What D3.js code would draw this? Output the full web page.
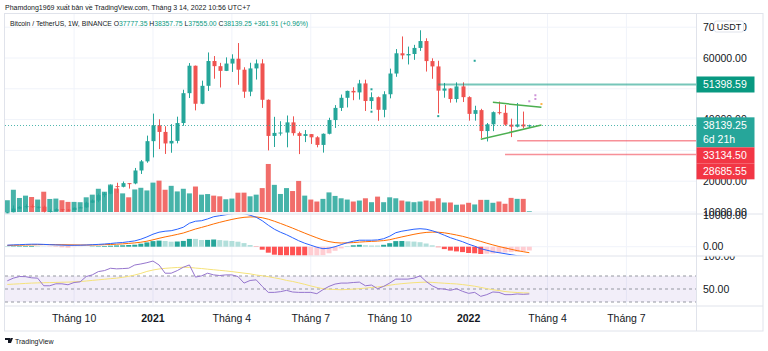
<!DOCTYPE html>
<html>
<head>
<meta charset="utf-8">
<script src="https://cdn.jsdelivr.net/npm/d3@7"></script>
<style>
    body { margin: 0; background: #fff; }
    svg { display: block; font-family: "Liberation Sans", Arial, sans-serif; }
</style>
</head>
<body>
<svg id="chart" width="768" height="351"></svg>
<script>
"use strict";

// weekly BTC/USDT candles, first week = 2020-07-20
var opens = [9160,9930,11100,11660,11900,11650,11710,10260,10330,10920,10780,10670,11380,11500,13030,13740,15480,15960,18400,18180,19370,19270,23480,26440,33000,38150,36000,32260,33090,38880,48580,57490,45140,50970,59020,57350,55820,58200,59770,56200,49070,56620,58240,46430,34700,35680,35800,39100,35600,34700,35290,34250,31780,35400,39850,43800,47080,49320,48830,51750,46030,47270,43180,48230,54960,61530,60850,61300,63270,65500,59000,57270,49400,50100,46680,50780,47290,41860,43080,36280,38470,42410,42200,38360,37700,38420,37777.35];
var highs = [10000,12120,11900,12490,12470,11800,12090,10800,11180,10990,10950,11490,11720,13350,14100,15960,16480,18950,19500,19900,19420,24300,26870,34800,41950,40100,37850,38530,40950,49700,58350,57540,52640,61800,60630,58420,60200,61200,64850,57000,58450,59500,59600,46550,40900,39480,41330,41060,36100,36600,35300,34600,35500,40600,44700,48140,49400,50500,52900,52950,48850,47500,49200,56550,62900,67000,63700,64270,69000,66400,59900,59100,51900,50200,52100,52100,47570,44500,43500,38900,42650,45850,44750,40300,45400,42600,38357.75];
var lows = [9120,9900,11000,11150,11370,11120,9880,9880,10260,10140,10370,10530,11250,11410,12960,13200,14800,15790,16200,18000,17600,19000,22350,25990,27730,30420,28850,29240,32300,37990,47000,43000,45000,49300,53270,50420,55760,55470,51300,47050,47600,53000,43800,30000,31100,34800,31000,34800,28800,32700,32100,31000,29280,35200,37300,42800,43950,46300,46500,42800,43400,39600,40750,46900,53900,59600,57900,59400,62300,55600,53250,42000,47100,45500,45560,45700,39650,39650,34000,32900,36250,41650,38000,34320,37450,37150,37555];
var closes = [9930,11100,11660,11900,11650,11710,10260,10330,10920,10780,10670,11380,11500,13030,13740,15480,15960,18400,18180,19370,19270,23480,26440,33000,38150,36000,32260,33090,38880,48580,57490,45140,50970,59020,57350,55820,58200,59770,56200,49070,56620,58240,46430,34700,35680,35800,39100,35600,34700,35290,34250,31780,35400,39850,43800,47080,49320,48830,51750,46030,47270,43180,48230,54960,61530,60850,61300,63270,65500,59000,57270,49400,50100,46680,50780,47290,41860,43080,36280,38470,42410,42200,38360,37700,38420,37780,38139.25];
// volume, thousand BTC
var volumes = [240,454,286,334,306,254,414,266,274,240,206,206,200,300,354,474,414,560,480,380,300,460,494,440,600,640,454,534,420,474,380,520,354,366,334,320,260,274,394,395,320,354,488,980,554,368,488,428,634,334,254,214,268,400,328,280,254,214,234,280,200,314,200,300,280,234,214,200,214,234,220,280,194,194,148,154,188,154,248,248,188,214,168,288,268,268,14];

// legend change of the last bar, as printed
var lastChange = 361.91;
var lastChangePct = 0.96;

// MACD 12 26 9
var macdLine = [450,540,600,690,750,750,690,600,540,480,420,420,450,510,600,690,810,960,1140,1260,1500,1740,2250,2940,3750,4350,4650,4800,5250,5850,7050,7650,7800,8340,9000,9300,9600,9900,10050,9900,9450,8850,7800,6450,5250,4350,3600,2700,1800,1050,450,-150,-600,-450,0,600,1200,1650,1950,1950,1950,2040,2400,3150,4200,4650,4950,5250,5400,5250,4800,4200,3450,2700,2100,1500,750,150,-600,-1050,-1500,-1800,-2100,-2400,-2700,-2850,-2940];
var signalLine = [390,420,450,510,540,600,630,630,600,600,570,540,510,510,510,540,600,660,750,840,990,1140,1350,1650,2070,2520,2940,3300,3690,4110,4710,5310,5790,6300,6840,7320,7770,8190,8550,8820,8940,8940,8700,8250,7650,6990,6300,5580,4830,4080,3360,2670,2010,1530,1230,1110,1140,1230,1380,1500,1590,1680,1830,2100,2520,2940,3330,3720,4050,4290,4380,4350,4170,3870,3510,3120,2640,2130,1590,1050,540,60,-360,-780,-1170,-1500,-1800];
var macdHist = [60,120,150,180,210,150,60,-30,-60,-120,-150,-120,-60,0,90,150,210,300,390,420,510,600,900,1290,1680,1830,1710,1500,1560,1740,2340,2340,2010,2040,2160,1980,1830,1710,1500,1080,510,-90,-900,-1800,-2400,-2640,-2700,-2880,-3030,-3030,-2910,-2820,-2610,-1980,-1230,-510,60,420,570,450,360,360,570,1050,1680,1710,1620,1530,1350,960,420,-150,-720,-1170,-1410,-1620,-1890,-1980,-2190,-2100,-2040,-1860,-1740,-1620,-1530,-1350,-1140];

// RSI 14 and its moving average
var rsiValues = [62.6,66.7,69.2,69.0,67.2,66.7,55.0,55.0,58.0,58.0,56.5,60.0,61.0,69.2,71.7,76.8,78.3,81.9,81.0,81.4,82.0,86.9,88.5,90.5,93.0,87.0,74.3,74.3,78.3,83.5,87.0,68.3,70.2,74.3,71.7,70.7,71.7,71.7,69.2,59.1,63.1,64.1,54.0,44.8,44.8,45.9,47.9,45.4,44.8,44.8,44.8,42.8,48.9,54.0,57.6,59.1,59.1,60.0,60.6,55.0,56.1,50.5,54.0,59.1,65.2,65.2,65.2,66.7,70.2,61.6,55.0,50.5,49.9,47.9,50.5,46.4,43.3,44.8,38.7,41.3,45.4,44.8,41.3,41.3,42.4,41.8,42.4];
var rsiMa = [57,57.5,58,58.6,59.1,59.4,59.7,59.9,60.1,60.4,60.6,61,61.5,62.3,63.2,64.1,65,65.9,66.7,68,69.5,71.5,74,77,79.2,80.8,81.8,82.5,83.1,83.5,83.2,82.2,81.5,80.5,79.6,78.7,77.8,76.8,75.6,74.4,73.3,71.5,70.4,69,67.2,65.5,63.2,61.6,59.5,57.2,54.7,52.5,50.5,49.7,49.2,48.9,49.3,49.8,50.5,51.4,52.3,53.2,54.2,55.8,57.2,58.2,59,59.7,60.2,60.6,60.2,59.5,58.9,58.3,57.8,56.8,55.6,54.3,52.5,50.6,48.9,47.6,46.1,45.2,44.6,44.1,43.8];

var tickDates = ["2020-10-05","2021-01-04","2021-04-05","2021-07-05","2021-10-04","2022-01-03","2022-04-04","2022-07-04"];
var tickLabels = ["Tháng 10","2021","Tháng 4","Tháng 7","Tháng 10","2022","Tháng 4","Tháng 7"];
var priceTicks = [70000,60000,50000,40000,30000,20000,10000];

// drawings on the chart
var levelLines = [
    {from: "2021-11-29", price: 51398.59, color: "#089981"},
    {from: "2022-02-28", price: 33134.50, color: "#f23645"},
    {from: "2022-02-14", price: 28685.55, color: "#f23645"}
];
var trendLines = [
    {from: "2022-01-31", p1: 45600, to: "2022-03-28", p2: 44000},
    {from: "2022-01-17", p1: 33600, to: "2022-03-28", p2: 38250}
];
var marks = [
    {date: "2021-09-13", price: 49840, color: "#26a69a"},
    {date: "2021-09-13", price: 42560, color: "#26a69a"},
    {date: "2021-11-29", price: 41130, color: "#26a69a"},
    {date: "2022-01-10", price: 59100, color: "#26a69a"},
    {date: "2022-03-21", price: 47900, color: "#ce93d8"},
    {date: "2022-03-21", price: 46700, color: "#ce93d8"},
    {date: "2022-03-14", price: 45950, color: "#ce93d8"},
    {date: "2022-03-28", price: 45060, color: "#ffb74d"}
];

var up = "#26a69a", down = "#ef5350";
var gridColor = "#f0f3fa", borderColor = "#e0e3eb", textColor = "#131722";
var parseDay = d3.utcParse("%Y-%m-%d");
var weeks = d3.utcMonday.range(parseDay("2020-07-20"), parseDay("2022-03-15"));
var bars = weeks.map(function(d, i) {
    return {date: d, o: opens[i], h: highs[i], l: lows[i], c: closes[i], v: volumes[i],
        macd: macdLine[i], signal: signalLine[i], hist: macdHist[i], rsi: rsiValues[i], rsiMa: rsiMa[i]};
});

var plotLeft = 5, plotRight = 696, axisRight = 763;
var main = {top: 14, bottom: 213.5};
var macdPane = {top: 214.5, bottom: 255.5};
var rsiPane = {top: 256.5, bottom: 305.5};

var x = d3.scaleUtc().domain([weeks[0], weeks[weeks.length - 1]]).range([7.3, 529.3]);
var y = d3.scaleLinear().domain([10000, 60000]).range([212, 58]);
var yVol = d3.scaleLinear().domain([0, 1000]).range([212, 163]);
var yMacd = d3.scaleLinear().domain([0, 10000]).range([246.7, 213.4]);
var yRsi = d3.scaleLinear().domain([30, 70]).range([302, 276]);
var fmt = d3.format(".2f");

var svg = d3.select("#chart");
svg.append("rect").attr("width", 768).attr("height", 351).attr("fill", "#fff");

var defs = svg.append("defs");
function clip(id, top, bottom) {
    defs.append("clipPath").attr("id", id).append("rect")
        .attr("x", plotLeft).attr("y", top).attr("width", plotRight - plotLeft).attr("height", bottom - top);
    return svg.append("g").attr("clip-path", "url(#" + id + ")");
}

// vertical grid in all panes
svg.append("g").selectAll("line")
    .data(tickDates)
    .enter().append("line")
    .attr("x1", function(d) { return x(parseDay(d)); })
    .attr("x2", function(d) { return x(parseDay(d)); })
    .attr("y1", main.top).attr("y2", rsiPane.bottom)
    .attr("stroke", gridColor);

// ---- main pane ----
var gMain = clip("clipMain", main.top, main.bottom);

gMain.selectAll(".hgrid")
    .data(priceTicks)
    .enter().append("line")
    .attr("x1", plotLeft).attr("x2", plotRight)
    .attr("y1", function(d) { return y(d); })
    .attr("y2", function(d) { return y(d); })
    .attr("stroke", gridColor);

// volume
gMain.selectAll(".vol")
    .data(bars)
    .enter().append("rect")
    .attr("x", function(d) { return x(d.date) - 2.5; })
    .attr("width", 5)
    .attr("y", function(d) { return yVol(d.v); })
    .attr("height", function(d) { return yVol(0) - yVol(d.v); })
    .attr("fill", function(d) { return d.c >= d.o ? up : down; })
    .attr("opacity", 0.85);

// candles
var candle = gMain.selectAll(".candle")
    .data(bars)
    .enter().append("g")
    .attr("fill", function(d) { return d.c >= d.o ? up : down; })
    .attr("stroke", function(d) { return d.c >= d.o ? up : down; });

candle.append("line")
    .attr("x1", function(d) { return Math.round(x(d.date)) + 0.5; })
    .attr("x2", function(d) { return Math.round(x(d.date)) + 0.5; })
    .attr("y1", function(d) { return y(d.h); })
    .attr("y2", function(d) { return y(d.l); });

candle.append("rect")
    .attr("stroke", "none")
    .attr("x", function(d) { return Math.round(x(d.date)) - 1.5; })
    .attr("width", 4)
    .attr("y", function(d) { return y(Math.max(d.o, d.c)); })
    .attr("height", function(d) { return Math.max(1, Math.abs(y(d.o) - y(d.c))); });

// last price line
var last = bars[bars.length - 1];
var lastY = Math.round(y(last.c)) + 0.5;
gMain.append("line")
    .attr("x1", plotLeft).attr("x2", plotRight)
    .attr("y1", lastY).attr("y2", lastY)
    .attr("stroke", up).attr("stroke-dasharray", "1,2").attr("opacity", 0.8);

// horizontal levels
gMain.selectAll(".level")
    .data(levelLines)
    .enter().append("line")
    .attr("x1", function(d) { return x(parseDay(d.from)); })
    .attr("x2", plotRight)
    .attr("y1", function(d) { return y(d.price); })
    .attr("y2", function(d) { return y(d.price); })
    .attr("stroke", function(d) { return d.color; })
    .attr("stroke-width", function(d, i) { return i === 0 ? 2 : 1.5; })
    .attr("opacity", 0.55);

// triangle
gMain.selectAll(".trend")
    .data(trendLines)
    .enter().append("line")
    .attr("x1", function(d) { return x(parseDay(d.from)); })
    .attr("y1", function(d) { return y(d.p1); })
    .attr("x2", function(d) { return x(parseDay(d.to)); })
    .attr("y2", function(d) { return y(d.p2); })
    .attr("stroke", "#4caf50").attr("stroke-width", 1.5);

gMain.selectAll(".mark")
    .data(marks)
    .enter().append("rect")
    .attr("x", function(d) { return x(parseDay(d.date)) - 1; })
    .attr("y", function(d) { return y(d.price) - 1; })
    .attr("width", 2).attr("height", 2)
    .attr("fill", function(d) { return d.color; });

// ---- MACD pane ----
var gMacd = clip("clipMacd", macdPane.top, macdPane.bottom);
gMacd.append("line")
    .attr("x1", plotLeft).attr("x2", plotRight)
    .attr("y1", yMacd(0)).attr("y2", yMacd(0))
    .attr("stroke", gridColor);

gMacd.selectAll(".hist")
    .data(bars)
    .enter().append("rect")
    .attr("x", function(d) { return x(d.date) - 2.5; })
    .attr("width", 5)
    .attr("y", function(d) { return yMacd(Math.max(0, d.hist)); })
    .attr("height", function(d) { return Math.abs(yMacd(d.hist) - yMacd(0)); })
    .attr("fill", function(d, i) {
        var prev = i > 0 ? bars[i - 1].hist : 0;
        if (d.hist >= 0) return prev < d.hist ? "#26a69a" : "#b2dfdb";
        return prev < d.hist ? "#ffcdd2" : "#ff5252";
    });

gMacd.append("path")
    .datum(bars)
    .attr("fill", "none").attr("stroke", "#ff6d00").attr("stroke-width", 1)
    .attr("d", d3.line().x(function(d) { return x(d.date); }).y(function(d) { return yMacd(d.signal); }));

gMacd.append("path")
    .datum(bars)
    .attr("fill", "none").attr("stroke", "#2962ff").attr("stroke-width", 1)
    .attr("d", d3.line().x(function(d) { return x(d.date); }).y(function(d) { return yMacd(d.macd); }));

// ---- RSI pane ----
var gRsi = clip("clipRsi", rsiPane.top, rsiPane.bottom);
gRsi.append("rect")
    .attr("x", plotLeft).attr("width", plotRight - plotLeft)
    .attr("y", yRsi(70)).attr("height", yRsi(30) - yRsi(70))
    .attr("fill", "#7e57c2").attr("opacity", 0.1);

gRsi.selectAll(".band")
    .data([70, 50, 30])
    .enter().append("line")
    .attr("x1", plotLeft).attr("x2", plotRight)
    .attr("y1", function(d) { return yRsi(d); })
    .attr("y2", function(d) { return yRsi(d); })
    .attr("stroke", "#9598a1").attr("stroke-dasharray", "3,3");

gRsi.append("path")
    .datum(bars)
    .attr("fill", "none").attr("stroke", "#f5e27a").attr("stroke-width", 1)
    .attr("d", d3.line().x(function(d) { return x(d.date); }).y(function(d) { return yRsi(d.rsiMa); }));

gRsi.append("path")
    .datum(bars)
    .attr("fill", "none").attr("stroke", "#9575cd").attr("stroke-width", 1)
    .attr("d", d3.line().x(function(d) { return x(d.date); }).y(function(d) { return yRsi(d.rsi); }));

// borders and separators
var frame = svg.append("g").attr("stroke", borderColor).attr("fill", "none");
frame.append("rect").attr("x", plotLeft - 0.5).attr("y", main.top - 0.5)
    .attr("width", axisRight - plotLeft + 0.5).attr("height", 331 - main.top + 0.5);
[214, 256, 306].forEach(function(v) {
    frame.append("line").attr("x1", plotLeft).attr("x2", axisRight).attr("y1", v).attr("y2", v);
});
frame.append("line").attr("x1", plotRight + 0.5).attr("x2", plotRight + 0.5).attr("y1", main.top).attr("y2", 331);

// x axis
svg.append("g").selectAll("text")
    .data(tickDates)
    .enter().append("text")
    .attr("x", function(d) { return x(parseDay(d)); })
    .attr("y", 321.5)
    .attr("text-anchor", "middle")
    .attr("font-size", 10.5)
    .attr("font-weight", function(d, i) { return /^\d+$/.test(tickLabels[i]) ? "bold" : "normal"; })
    .attr("fill", textColor)
    .text(function(d, i) { return tickLabels[i]; });

// price labels on the axis, stacked so they do not overlap
var labels = [
    {price: levelLines[0].price, lines: [fmt(levelLines[0].price)], color: "#089981"},
    {price: last.c, lines: [fmt(last.c), "6d 21h"], color: "#26a69a"},
    {price: levelLines[1].price, lines: [fmt(levelLines[1].price)], color: "#f23645"},
    {price: levelLines[2].price, lines: [fmt(levelLines[2].price)], color: "#f23645"}
];
var prevBottom = 0;
labels.forEach(function(lab) {
    lab.h = 14 * lab.lines.length + 2;
    lab.top = Math.max(y(lab.price) - 8, prevBottom);
    prevBottom = lab.top + lab.h;
});

// price axis ticks, those hidden under a label box are skipped
var axisX = 703;
var freeTicks = priceTicks.filter(function(v) {
    return !labels.some(function(lab) { return y(v) > lab.top + 3 && y(v) < lab.top + lab.h - 3; });
});
svg.append("g").selectAll("text")
    .data(freeTicks)
    .enter().append("text")
    .attr("x", axisX).attr("y", function(d) { return y(d); })
    .attr("dy", "0.35em").attr("font-size", 10.5).attr("fill", textColor)
    .text(function(d) { return fmt(d); });

svg.append("text").attr("x", axisX).attr("y", yMacd(10000) + 1.5).attr("dy", "0.35em")
    .attr("font-size", 10.5).attr("fill", textColor).text(fmt(10000));
svg.append("text").attr("x", axisX).attr("y", yMacd(0)).attr("dy", "0.35em")
    .attr("font-size", 10.5).attr("fill", textColor).text(fmt(0));

defs.append("clipPath").attr("id", "clipRsiAxis").append("rect")
    .attr("x", plotRight).attr("y", 256.5).attr("width", 70).attr("height", 49);
var rsiAxis = svg.append("g").attr("clip-path", "url(#clipRsiAxis)");
[100, 50].forEach(function(v) {
    rsiAxis.append("text").attr("x", axisX).attr("y", yRsi(v)).attr("dy", "0.35em")
        .attr("font-size", 10.5).attr("fill", textColor).text(fmt(v));
});

labels.forEach(function(lab) {
    svg.append("rect").attr("x", plotRight + 0.5).attr("y", lab.top).attr("width", 58).attr("height", lab.h)
        .attr("fill", lab.color);
    lab.lines.forEach(function(t, j) {
        svg.append("text").attr("x", axisX).attr("y", lab.top + 8 + j * 14).attr("dy", "0.35em")
            .attr("font-size", 10.5).attr("fill", "#fff").text(t);
    });
});

// currency badge
svg.append("rect").attr("x", 714.5).attr("y", 21).attr("width", 29).attr("height", 11).attr("rx", 2)
    .attr("fill", "#fff").attr("stroke", borderColor);
svg.append("text").attr("x", 729).attr("y", 26.5).attr("dy", "0.35em").attr("text-anchor", "middle")
    .attr("font-size", 9).attr("fill", textColor).text("USDT");

// header
svg.append("text").attr("x", 5).attr("y", 10).attr("font-size", 7).attr("fill", textColor)
    .text("Phamdong1969 xuất bản về TradingView.com, Tháng 3 14, 2022 10:56 UTC+7");

var legend = svg.append("text").attr("x", 10).attr("y", 25.5).attr("font-size", 6.8).attr("fill", textColor);
legend.append("tspan").text("Bitcoin / TetherUS, 1W, BINANCE");
[["O", last.o], ["H", last.h], ["L", last.l], ["C", last.c]].forEach(function(p) {
    legend.append("tspan").text(" " + p[0]);
    legend.append("tspan").attr("fill", "#089981").text(fmt(p[1]));
});
legend.append("tspan").attr("fill", "#089981")
    .text(" +" + fmt(lastChange) + " (+" + fmt(lastChangePct) + "%)");

// footer logo
var logo = svg.append("g").attr("fill", textColor);
logo.append("path").attr("d", "M5 338h5v5h-2v-3h-3z M10.5 338h2.5l-2 5h-2z");
logo.append("text").attr("x", 15).attr("y", 343.5).attr("font-size", 7).text("TradingView");
</script>
</body>
</html>
